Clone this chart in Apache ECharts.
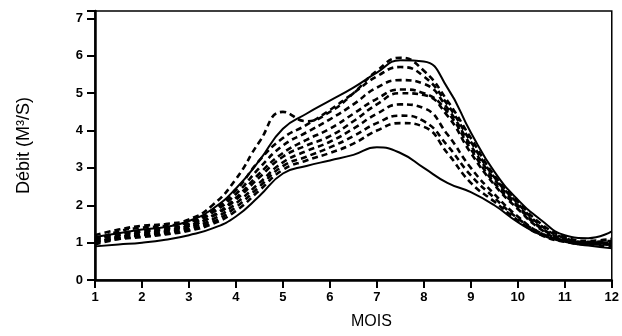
<!DOCTYPE html>
<html>
<head>
<meta charset="utf-8">
<script src="https://cdn.jsdelivr.net/npm/echarts@6/dist/echarts.min.js"></script>
<style>
  html, body { margin: 0; padding: 0; background: #fff; }
  #chart { width: 622px; height: 336px; }
</style>
</head>
<body>
<div id="chart"></div>
<script>
// months sampled every half month
const months = [1, 1.5, 2, 2.5, 3, 3.5, 4, 4.5, 5, 5.5, 6, 6.5, 7, 7.5, 8, 8.5, 9, 9.5, 10, 10.5, 11, 11.5, 12]

// solid envelopes
const maxi = [1.15, 1.25, 1.35, 1.42, 1.58, 1.9, 2.45, 3.2, 4.05, 4.45, 4.8, 5.15, 5.55, 5.88, 5.85, 5.15, 3.95, 2.9, 2.15, 1.6, 1.2, 1.12, 1.3]
const mini = [0.9, 0.95, 1.0, 1.08, 1.2, 1.38, 1.7, 2.25, 2.85, 3.05, 3.2, 3.35, 3.55, 3.4, 3.0, 2.6, 2.35, 2.0, 1.55, 1.2, 1.02, 0.92, 0.85]

// dashed years
const d1 = [1.2, 1.35, 1.45, 1.5, 1.62, 2.0, 2.7, 3.7, 4.5, 4.25, 4.5, 5.0, 5.6, 5.95, 5.6, 4.8, 3.8, 2.8, 2.1, 1.5, 1.15, 1.05, 1.1]
const d2 = [1.05, 1.3, 1.4, 1.45, 1.55, 1.85, 2.4, 3.2, 3.8, 4.15, 4.55, 5.0, 5.45, 5.7, 5.45, 4.7, 3.7, 2.75, 2.05, 1.45, 1.12, 1.02, 1.05]
const d3 = [1.1, 1.2, 1.3, 1.38, 1.5, 1.8, 2.3, 3.0, 3.6, 3.95, 4.3, 4.7, 5.15, 5.35, 5.25, 4.6, 3.6, 2.7, 2.0, 1.4, 1.1, 1.0, 1.0]
const d4 = [1.0, 1.15, 1.25, 1.32, 1.45, 1.72, 2.2, 2.85, 3.4, 3.75, 4.05, 4.45, 4.85, 5.1, 5.0, 4.5, 3.5, 2.6, 1.95, 1.38, 1.08, 1.0, 0.98]
const d5 = [1.1, 1.25, 1.3, 1.35, 1.45, 1.7, 2.15, 2.75, 3.3, 3.6, 3.85, 4.25, 4.7, 5.0, 4.95, 4.4, 3.4, 2.55, 1.9, 1.35, 1.05, 0.98, 0.95]
const d6 = [0.95, 1.1, 1.2, 1.28, 1.4, 1.62, 2.05, 2.6, 3.15, 3.45, 3.7, 4.05, 4.45, 4.7, 4.6, 3.9, 3.0, 2.3, 1.7, 1.25, 1.05, 0.98, 1.0]
const d7 = [1.0, 1.15, 1.2, 1.25, 1.35, 1.55, 1.95, 2.5, 3.05, 3.3, 3.55, 3.85, 4.2, 4.4, 4.25, 3.6, 2.8, 2.2, 1.65, 1.25, 1.05, 0.95, 0.95]
const d8 = [1.05, 1.1, 1.15, 1.22, 1.32, 1.5, 1.85, 2.4, 2.95, 3.2, 3.4, 3.65, 4.0, 4.2, 4.1, 3.4, 2.6, 2.1, 1.6, 1.2, 1.02, 0.95, 0.9]

const solidSeries = [maxi, mini]
const dashedSeries = [d1, d2, d3, d4, d5, d6, d7, d8]

const font = '"Liberation Sans", Arial, sans-serif'

function toPairs(vals) {
  return months.map((m, i) => [m, vals[i]])
}

const chart = echarts.init(document.getElementById('chart'))

const series = [
  ...dashedSeries.map(v => ({
    type: 'line',
    data: toPairs(v),
    smooth: 0.5,
    showSymbol: false,
    silent: true,
    lineStyle: { color: '#000', width: 2.6, type: [6, 4] },
  })),
  ...solidSeries.map(v => ({
    type: 'line',
    data: toPairs(v),
    smooth: 0.5,
    showSymbol: false,
    silent: true,
    lineStyle: { color: '#000', width: 2 },
  })),
]

chart.setOption({
  animation: false,
  backgroundColor: '#fff',
  grid: {
    left: 95,
    right: 2,
    top: 11,
    bottom: 56,
    show: true,
    borderColor: '#000',
    borderWidth: 1.5,
  },
  xAxis: {
    type: 'value',
    min: 1,
    max: 12,
    interval: 1,
    name: 'MOIS',
    nameLocation: 'middle',
    nameGap: 34,
    nameTextStyle: { fontFamily: font, fontSize: 16, color: '#000', padding: [0, 0, 0, 36] },
    axisLine: { lineStyle: { color: '#000', width: 2.5 } },
    axisTick: { length: 8, lineStyle: { color: '#000', width: 2 } },
    axisLabel: { fontFamily: font, fontSize: 13, fontWeight: 'bold', color: '#000', margin: 11 },
    splitLine: { show: false },
  },
  yAxis: {
    type: 'value',
    min: 0,
    max: 7.2,
    interval: 1,
    name: 'Débit (M³/S)',
    nameLocation: 'middle',
    nameGap: 62,
    nameRotate: 90,
    nameTextStyle: { fontFamily: font, fontSize: 18, color: '#000' },
    axisLine: { lineStyle: { color: '#000', width: 2.5 } },
    axisTick: { length: 8, lineStyle: { color: '#000', width: 2 } },
    axisLabel: {
      fontFamily: font, fontSize: 13, fontWeight: 'bold', color: '#000', margin: 12,
      formatter: v => (Number.isInteger(v) ? String(v) : ''),
    },
    splitLine: { show: false },
  },
  series,
})
</script>
</body>
</html>
